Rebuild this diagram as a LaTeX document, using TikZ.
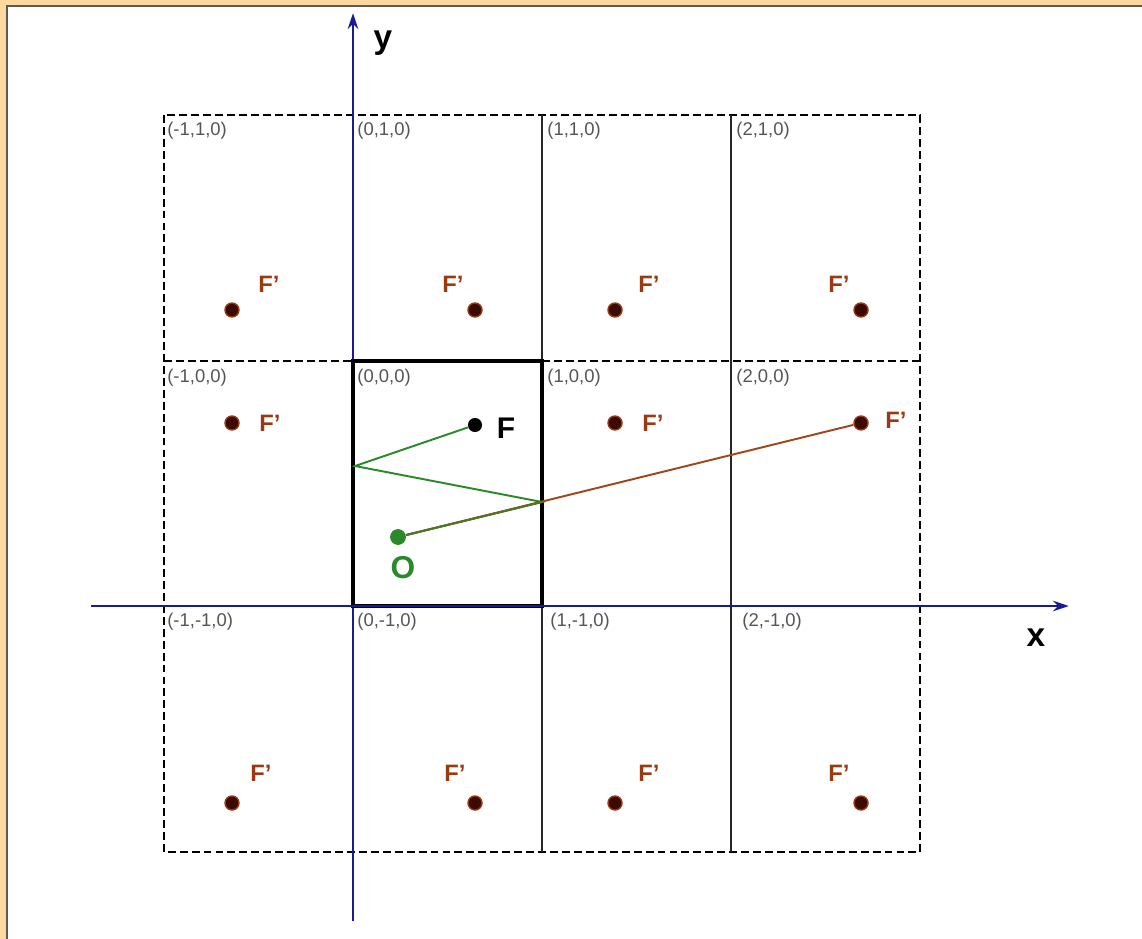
\documentclass[tikz,border=0pt]{standalone}
\usepackage{fontspec}
\setmainfont{Liberation Sans}
\usetikzlibrary{arrows.meta}
\definecolor{frameor}{HTML}{FDD9A0}
\definecolor{axblue}{HTML}{1A1A96}
\definecolor{fbrown}{HTML}{9A3A12}
\definecolor{dotbrown}{HTML}{3A0A00}
\definecolor{ogreen}{HTML}{2A8A2A}
\definecolor{lbrown}{HTML}{A0461E}
\definecolor{cellgray}{HTML}{555555}
\tikzset{
  dashln/.style={line width=1.1pt, dash pattern=on 4.5pt off 2.3pt},
  thinln/.style={black!85, line width=0.95pt},
  thickln/.style={line width=2pt},
  axis/.style={axblue, line width=1.6pt, -{Stealth[length=9pt,width=6pt]}},
  celllbl/.style={anchor=west, text=cellgray, font=\fontsize{10.5}{12}\selectfont, inner sep=0pt},
  fdot/.style={circle, fill=dotbrown, draw=fbrown, line width=0.8pt, minimum size=8pt, inner sep=0pt},
  bdot/.style={circle, fill=black, minimum size=8pt, inner sep=0pt},
  gdot/.style={circle, fill=ogreen, minimum size=9pt, inner sep=0pt},
  fplbl/.style={text=fbrown, font=\bfseries\fontsize{13.5}{15}\selectfont, inner sep=0pt},
  glbl/.style={text=ogreen, font=\bfseries\fontsize{18}{20}\selectfont, inner sep=0pt},
  axlbl/.style={text=black, font=\bfseries\fontsize{19}{21}\selectfont, inner sep=0pt},
}
\begin{document}
\begin{tikzpicture}[x=0.02cm, y=-0.02cm]
\useasboundingbox (0,0) rectangle (1142,939);
% frame
\fill[frameor] (0,0) rectangle (1142,939);
\fill[white] (7,6) rectangle (1142,939);
\draw[gray!70!black, line width=1.2pt] (7,939) -- (7,6) -- (1142,6);
% grid: outer dashed border
\draw[dashln] (164,115) rectangle (920,852);
% horizontal internal lines
\draw[dashln] (164,361) -- (353,361);
\draw[dashln] (542,361) -- (920,361);
% vertical internal lines
\draw[thinln] (542,115) -- (542,361);
\draw[thinln] (542,606) -- (542,852);
\draw[thinln] (731,115) -- (731,852);
% cell labels
\node[celllbl] (c1) at (167,131) {(-1,1,0)};
\node[celllbl] (c2) at (357,131) {(0,1,0)};
\node[celllbl] (c3) at (547,131) {(1,1,0)};
\node[celllbl] (c4) at (736,131) {(2,1,0)};
\node[celllbl] (c5) at (167,378) {(-1,0,0)};
\node[celllbl] (c6) at (357,378) {(0,0,0)};
\node[celllbl] (c7) at (547,378) {(1,0,0)};
\node[celllbl] (c8) at (736,378) {(2,0,0)};
\node[celllbl] (c9) at (167,622) {(-1,-1,0)};
\node[celllbl] (c10) at (357,622) {(0,-1,0)};
\node[celllbl] (c11) at (550,622) {(1,-1,0)};
\node[celllbl] (c12) at (742,622) {(2,-1,0)};
% axes and central cell
\node[inner sep=0pt] (xs) at (90,606) {};
\node[inner sep=0pt] (xe) at (1070,606) {};
\node[inner sep=0pt] (ys) at (353,922) {};
\node[inner sep=0pt] (ye) at (353,12) {};
\draw[axis] (ys) -- (ye);
\draw[thickln] (353,361) rectangle (542,606);
\draw[axis] (xs) -- (xe);
\node[axlbl] (xl) at (1036,638) {x};
\node[axlbl] (yl) at (383,43) {y};
% connectors
\coordinate (r1) at (355,466);
\coordinate (r2) at (542,502);
\node[bdot] (F) at (475,425) {};
\node[gdot] (O) at (398,537) {};
\node[fdot] (f8) at (861,423) {};
\draw[ogreen, line width=1.1pt] (F) -- (r1) -- (r2) -- (O);
\draw[lbrown, line width=1.1pt] (O) -- (f8);
\draw[ogreen!70!lbrown, line width=1.1pt] (O) -- (r2);
% F' dots
\node[fdot] (f1) at (232,310) {};
\node[fdot] (f2) at (475,310) {};
\node[fdot] (f3) at (615,310) {};
\node[fdot] (f4) at (861,310) {};
\node[fdot] (f5) at (232,423) {};
\node[fdot] (f7) at (615,423) {};
\node[fdot] (f9) at (232,803) {};
\node[fdot] (f10) at (475,803) {};
\node[fdot] (f11) at (615,803) {};
\node[fdot] (f12) at (861,803) {};
% labels
\node[fplbl] (l1) at (269,284) {F’};
\node[fplbl] (l2) at (453,284) {F’};
\node[fplbl] (l3) at (649,284) {F’};
\node[fplbl] (l4) at (839,284) {F’};
\node[fplbl] (l5) at (270,423) {F’};
\node[fplbl] (l7) at (653,423) {F’};
\node[fplbl] (l8) at (896,420) {F’};
\node[fplbl] (l9) at (261,773) {F’};
\node[fplbl] (l10) at (455,773) {F’};
\node[fplbl] (l11) at (649,773) {F’};
\node[fplbl] (l12) at (839,773) {F’};
\node[text=black, font=\bfseries\fontsize{17}{19}\selectfont, inner sep=0pt] (Fl) at (506,428) {F};
\node[glbl] (Ol) at (403,568) {O};
\end{tikzpicture}
\end{document}
